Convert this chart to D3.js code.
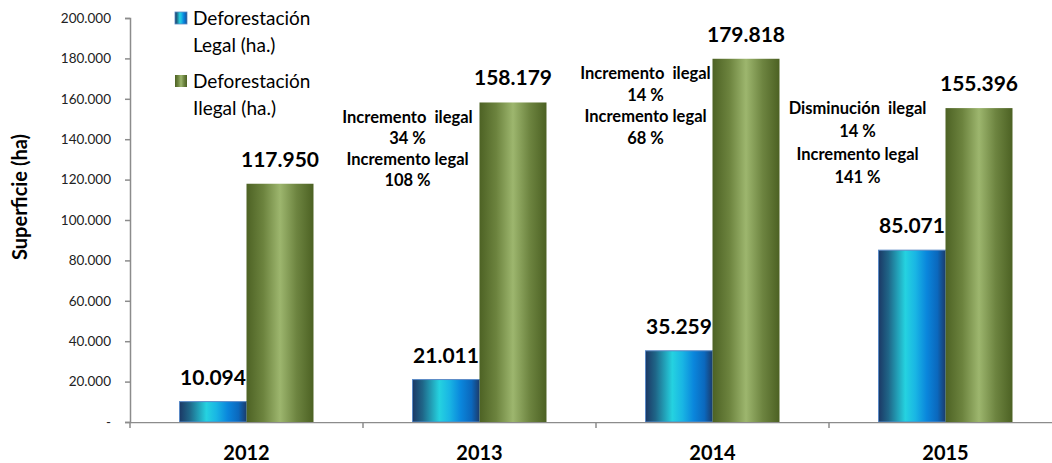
<!DOCTYPE html>
<html><head><meta charset="utf-8">
<script src="https://cdn.jsdelivr.net/npm/d3@7"></script>
<style>
html,body{margin:0;padding:0;background:#fff;}
svg{display:block;font-family:Lato,"Open Sans",sans-serif;}
</style></head>
<body>
<svg id="chart" width="1052" height="463"></svg>
<script>
// ---- data ----
const years = ["2012", "2013", "2014", "2015"];
const seriesNames = ["Deforestación Legal (ha.)", "Deforestación Ilegal (ha.)"];
const legalValues = [10094, 21011, 35259, 85071];
const ilegalValues = [117950, 158179, 179818, 155396];
const yTicks = [0, 20000, 40000, 60000, 80000, 100000, 120000, 140000, 160000, 180000, 200000];
const legendLines = [["Deforestación", "Legal (ha.)"], ["Deforestación", "Ilegal (ha.)"]];
const annotationYears = ["2013", "2014", "2015"];
const annotationTexts = [
  ["Incremento  ilegal", "34 %", "Incremento legal", "108 %"],
  ["Incremento  ilegal", "14 %", "Incremento legal", "68 %"],
  ["Disminución  ilegal", "14 %", "Incremento legal", "141 %"]
];
// layout for annotations (pixel offsets from category centre, first baseline, line height)
const annotationLayout = [
  {dx: -72, y: 123, lh: 21},
  {dx: -67, y: 79, lh: 21.7},
  {dx: -88, y: 114, lh: 23}
];

// ---- setup ----
const svg = d3.select("#chart");
const m = {left: 130, top: 18, bottom: 422, right: 1062};
const locale = d3.formatLocale({decimal: ",", thousands: ".", grouping: [3], currency: ["", ""]});
const fmt = locale.format(",d");

const x0 = d3.scaleBand().domain(years).range([m.left, m.right]).paddingInner(0).paddingOuter(0);
const x1 = d3.scaleBand().domain(seriesNames).range([0, x0.bandwidth()]).paddingInner(0).paddingOuter(0.739);
const y = d3.scaleLinear().domain([0, 200000]).range([m.bottom, m.top]);

// gradients
const defs = svg.append("defs");
function grad(id, stops) {
  const g = defs.append("linearGradient").attr("id", id).attr("x1", "0").attr("x2", "1").attr("y1", "0").attr("y2", "0");
  stops.forEach(s => g.append("stop").attr("offset", s[0]).attr("stop-color", s[1]));
}
grad("gBlue", [["0%", "#1b3865"], ["15%", "#1f6688"], ["40%", "#25d2e0"], ["55%", "#19b6e4"], ["72%", "#0a86dc"], ["88%", "#0b68bd"], ["100%", "#1b3c6c"]]);
grad("gGreen", [["0%", "#4d6224"], ["25%", "#6c833e"], ["50%", "#9db66e"], ["75%", "#6d8440"], ["100%", "#4c6123"]]);
const fills = ["url(#gBlue)", "url(#gGreen)"];
const strokes = ["#5b8ac6", "none"];

const clip = defs.append("clipPath").attr("id", "clipAll");
clip.append("rect").attr("x", 0).attr("y", 0).attr("width", 1052).attr("height", 463);

// bars
const rows = years.map((yr, i) => ({year: yr, vals: [legalValues[i], ilegalValues[i]]}));
const groups = svg.append("g").selectAll("g").data(rows).join("g")
  .attr("transform", d => `translate(${x0(d.year)},0)`);
groups.selectAll("rect").data(d => d.vals.map((v, k) => ({v, k}))).join("rect")
  .attr("x", d => x1(seriesNames[d.k]))
  .attr("y", d => y(d.v))
  .attr("width", x1.bandwidth())
  .attr("height", d => y(0) - y(d.v))
  .attr("fill", d => fills[d.k])
  .attr("stroke", d => strokes[d.k])
  .attr("stroke-width", 1);

// value labels
groups.selectAll("text.val").data(d => d.vals.map((v, k) => ({v, k}))).join("text")
  .attr("class", "val")
  .attr("x", d => x1(seriesNames[d.k]) + x1.bandwidth() / 2)
  .attr("y", d => y(d.v) - 17)
  .attr("text-anchor", "middle")
  .attr("font-weight", "bold")
  .attr("font-size", 21)
  .attr("fill", "#000")
  .text(d => fmt(d.v));

// y axis
const yAxis = d3.axisLeft(y).tickValues(yTicks).tickSize(5).tickPadding(14)
  .tickFormat(d => d === 0 ? "-" : fmt(d));
const gy = svg.append("g").attr("transform", `translate(${m.left},0)`).call(yAxis);
gy.select(".domain").attr("stroke", "#8c8c8c").attr("stroke-width", 1.5);
gy.selectAll(".tick line").attr("stroke", "#8c8c8c").attr("stroke-width", 1.5);
gy.selectAll(".tick text").attr("font-family", "Lato, sans-serif").attr("font-size", 13.5).attr("fill", "#222");

// x axis
const xAxis = d3.axisBottom(x0).tickSize(0).tickPadding(24);
const gx = svg.append("g").attr("transform", `translate(0,${m.bottom})`).attr("clip-path", "url(#clipAll)").call(xAxis);
gx.select(".domain").attr("stroke", "#8c8c8c").attr("stroke-width", 1.5);
gx.selectAll(".tick text").attr("font-family", "Lato, sans-serif").attr("font-size", 20).attr("font-weight", "bold").attr("fill", "#000");
gx.selectAll("line.bound").data(years).join("line").attr("class", "bound")
  .attr("x1", d => x0(d)).attr("x2", d => x0(d)).attr("y1", 0).attr("y2", 6)
  .attr("stroke", "#8c8c8c").attr("stroke-width", 1.5);

// y-axis title
svg.append("text")
  .attr("transform", `translate(27,197) rotate(-90)`)
  .attr("text-anchor", "middle")
  .attr("font-weight", "bold")
  .attr("font-size", 20)
  .attr("fill", "#000")
  .text("Superficie (ha)");

// legend
const leg = svg.append("g");
legendLines.forEach((lines, i) => {
  const top = 12 + i * 63;
  leg.append("rect").attr("x", 175).attr("y", top).attr("width", 12).attr("height", 12)
    .attr("fill", fills[i]).attr("stroke", strokes[i]).attr("stroke-width", 0.8);
  lines.forEach((t, j) => {
    leg.append("text").attr("x", 193).attr("y", top + 13 + j * 27)
      .attr("font-size", 19).attr("fill", "#000").text(t);
  });
});

// annotations
const ann = svg.append("g");
annotationYears.forEach((yr, i) => {
  const L = annotationLayout[i];
  const cx = x0(yr) + x0.bandwidth() / 2 + L.dx;
  annotationTexts[i].forEach((t, j) => {
    ann.append("text").attr("x", cx).attr("y", L.y + j * L.lh)
      .attr("text-anchor", "middle").attr("font-weight", "bold").attr("font-size", 16.5)
      .attr("fill", "#000").style("white-space", "pre").text(t);
  });
});
</script>
</body></html>
